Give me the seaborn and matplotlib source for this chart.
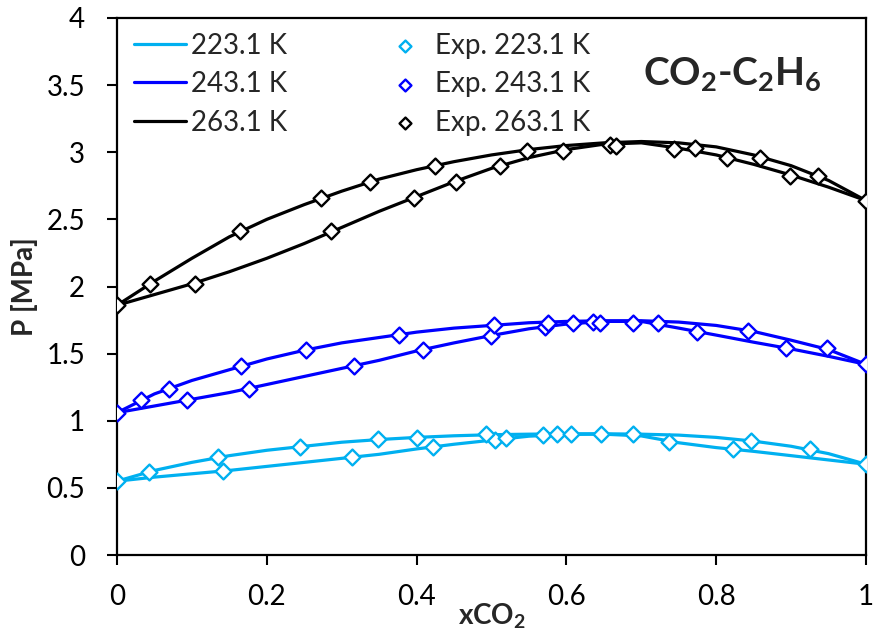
import matplotlib
matplotlib.use("Agg")
import matplotlib.pyplot as plt
import seaborn as sns
import numpy as np
from matplotlib.ticker import FuncFormatter, MultipleLocator

# ---------------- data ----------------
x_grid = [0, 0.05, 0.1, 0.15, 0.2, 0.25, 0.3, 0.35, 0.4, 0.45, 0.5,
          0.55, 0.6, 0.65, 0.7, 0.75, 0.8, 0.85, 0.9, 0.95, 1.0]

# model curves (bubble = upper, dew = lower)
p223_bub = [0.55, 0.63, 0.69, 0.74, 0.78, 0.81, 0.84, 0.86, 0.876, 0.888, 0.896,
            0.90, 0.903, 0.903, 0.90, 0.893, 0.876, 0.848, 0.81, 0.755, 0.676]
p223_dew = [0.55, 0.58, 0.605, 0.63, 0.66, 0.69, 0.72, 0.75, 0.79, 0.825, 0.855,
            0.885, 0.898, 0.90, 0.887, 0.836, 0.80, 0.772, 0.74, 0.708, 0.676]
p243_bub = [1.06, 1.20, 1.30, 1.38, 1.46, 1.525, 1.58, 1.62, 1.66, 1.69, 1.71,
            1.73, 1.74, 1.745, 1.745, 1.735, 1.71, 1.665, 1.60, 1.53, 1.42]
p243_dew = [1.06, 1.11, 1.16, 1.21, 1.27, 1.33, 1.39, 1.45, 1.52, 1.58, 1.635,
            1.685, 1.72, 1.74, 1.74, 1.69, 1.638, 1.585, 1.535, 1.48, 1.42]
p263_bub = [1.86, 2.04, 2.21, 2.37, 2.50, 2.61, 2.71, 2.80, 2.87, 2.93, 2.98,
            3.02, 3.05, 3.07, 3.08, 3.07, 3.04, 2.98, 2.90, 2.79, 2.64]
p263_dew = [1.86, 1.94, 2.02, 2.11, 2.21, 2.32, 2.44, 2.56, 2.67, 2.78, 2.88,
            2.96, 3.02, 3.06, 3.07, 3.03, 2.98, 2.91, 2.83, 2.74, 2.64]

# experimental points
exp223_x = [0.0, 0.043, 0.141, 0.135, 0.314, 0.244, 0.422, 0.349, 0.505, 0.401, 0.52,
            0.492, 0.569, 0.588, 0.606, 0.646, 0.689, 0.737, 0.847, 0.822, 0.925, 1.0]
exp223_p = [0.551, 0.62, 0.626, 0.727, 0.727, 0.807, 0.807, 0.862, 0.857, 0.874, 0.869,
            0.899, 0.894, 0.90, 0.90, 0.899, 0.899, 0.844, 0.849, 0.79, 0.79, 0.676]
exp243_x = [0.0, 0.032, 0.094, 0.069, 0.176, 0.166, 0.316, 0.252, 0.409, 0.376, 0.499,
            0.503, 0.572, 0.575, 0.609, 0.636, 0.645, 0.689, 0.722, 0.775, 0.843,
            0.893, 0.948, 1.0]
exp243_p = [1.06, 1.155, 1.155, 1.236, 1.236, 1.41, 1.41, 1.527, 1.527, 1.639, 1.634,
            1.71, 1.70, 1.73, 1.726, 1.738, 1.73, 1.726, 1.726, 1.664, 1.668,
            1.54, 1.54, 1.42]
exp263_x = [0.0, 0.044, 0.104, 0.164, 0.286, 0.272, 0.396, 0.338, 0.453, 0.425, 0.512,
            0.548, 0.595, 0.658, 0.666, 0.744, 0.772, 0.814, 0.858, 0.899, 0.936, 1.0]
exp263_p = [1.862, 2.02, 2.02, 2.41, 2.41, 2.66, 2.66, 2.78, 2.78, 2.90, 2.90,
            3.01, 3.01, 3.054, 3.05, 3.024, 3.03, 2.96, 2.96, 2.826, 2.826, 2.64]

labels = ["223.1 K", "243.1 K", "263.1 K"]
colors = ["#00B0F0", "#0000FF", "#000000"]

# ---------------- style ----------------
sns.set_theme(style="white")
plt.rcParams["font.family"] = ["Lato", "DejaVu Sans"]
plt.rcParams["mathtext.fontset"] = "custom"
plt.rcParams["mathtext.rm"] = "Lato"
plt.rcParams["mathtext.bf"] = "Lato:bold"
plt.rcParams["mathtext.it"] = "Lato:italic"

fig = plt.figure(figsize=(8.74, 6.41), dpi=100)
ax = fig.add_axes([117/874, 1-555/641, (866-117)/874, (555-18)/641])

curves = [(p223_bub, p223_dew), (p243_bub, p243_dew), (p263_bub, p263_dew)]
for (bub, dew), lab, c in zip(curves, labels, colors):
    sns.lineplot(x=x_grid, y=bub, ax=ax, color=c, lw=2.3, sort=False,
                 estimator=None, label=lab, zorder=2)
    sns.lineplot(x=x_grid, y=dew, ax=ax, color=c, lw=2.3, sort=False,
                 estimator=None, label="_nolegend_", zorder=2)

exps = [(exp223_x, exp223_p), (exp243_x, exp243_p), (exp263_x, exp263_p)]
for (ex, ep), lab, c in zip(exps, labels, colors):
    sns.scatterplot(x=ex, y=ep, ax=ax, marker="D", s=65, facecolor="white",
                    edgecolor=c, linewidth=1.7, label="Exp. " + lab, zorder=3)

ax.set_xlim(0, 1)
ax.set_ylim(0, 4)
ax.xaxis.set_major_locator(MultipleLocator(0.2))
ax.yaxis.set_major_locator(MultipleLocator(0.5))
fmt = FuncFormatter(lambda v, p: "%g" % round(v, 3))
ax.xaxis.set_major_formatter(fmt)
ax.yaxis.set_major_formatter(fmt)
ax.tick_params(axis="both", which="major", direction="out", length=7, width=1.5,
               labelsize=20, colors="black", pad=14, bottom=True, left=True)
ax.tick_params(axis="y", pad=16)
for sp in ax.spines.values():
    sp.set_visible(True)
    sp.set_color("black")
    sp.set_linewidth(1.6)

ax.set_xlabel(r"x$\mathbf{CO_2}$", fontsize=20, fontweight="bold", labelpad=-6)
ax.set_ylabel("P [MPa]", fontsize=20, fontweight="bold", labelpad=6)

ax.text(0.822, 0.895, r"$\mathbf{CO_2}$" + "-" + r"$\mathbf{C_2H_6}$",
        transform=ax.transAxes, fontsize=28, fontweight="bold",
        ha="center", va="center")

leg = ax.legend(ncol=2, loc="upper left", frameon=False, fontsize=20,
                handlelength=1.9, handletextpad=0.15, columnspacing=3.3,
                labelspacing=0.45, borderaxespad=0.2, markerscale=0.75,
                bbox_to_anchor=(0.0, 1.004))

fig.savefig("out.png", dpi=100)
